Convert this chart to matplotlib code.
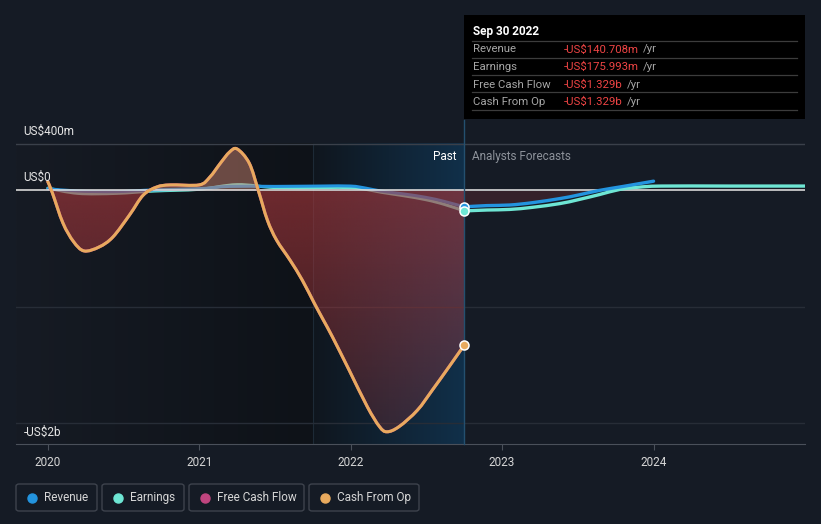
"""Revenue, earnings and cash flow history with analyst forecasts (dark card style)."""

import matplotlib

matplotlib.use("Agg")
import matplotlib.pyplot as plt
from matplotlib.colors import to_rgb
from matplotlib.patches import FancyBboxPatch, PathPatch
from matplotlib.path import Path
import numpy as np

plt.rcParams["font.family"] = ["Roboto", "DejaVu Sans"]

# --- data (US$ millions, decimal years) ---------------------------------
cfo_years = [2020.0, 2020.03, 2020.10, 2020.17, 2020.24, 2020.34, 2020.43, 2020.54,
             2020.63, 2020.72, 2020.81, 2021.0, 2021.07, 2021.14, 2021.20, 2021.25,
             2021.33, 2021.39, 2021.45, 2021.51, 2021.60, 2021.68, 2021.76, 2021.82,
             2021.88, 2021.99, 2022.11, 2022.19, 2022.24, 2022.32, 2022.44, 2022.54,
             2022.65, 2022.75]
cash_from_op = [76, -20, -280, -440, -520, -485, -400, -210,
                -40, 30, 48, 48, 115, 235, 330, 357,
                235, 0, -255, -425, -600, -770, -970, -1115,
                -1260, -1545, -1860, -2030, -2075, -2030, -1890, -1715,
                -1515, -1329]
free_cash_flow = cash_from_op  # identical in the source, drawn underneath

rev_past_years = [2020.0, 2020.2, 2020.45, 2020.7, 2021.0, 2021.2, 2021.5, 2021.8,
                  2022.0, 2022.1, 2022.2, 2022.35, 2022.5, 2022.62, 2022.75]
revenue_past = [15, -5, -10, 5, 15, 35, 35, 38, 38, 20, -5, -30, -60, -95, -140.708]
rev_fc_years = [2022.75, 2022.9, 2023.05, 2023.2, 2023.38, 2023.5, 2023.64, 2023.8, 2024.0]
revenue_fc = [-140.708, -130, -125, -105, -70, -40, 0, 35, 80]

earn_past_years = [2020.0, 2020.2, 2020.45, 2020.7, 2021.0, 2021.25, 2021.5, 2021.8,
                   2022.0, 2022.1, 2022.2, 2022.35, 2022.5, 2022.62, 2022.75]
earnings_past = [20, -25, -25, -5, 10, 50, 25, 25, 25, 10, -15, -45, -80, -120, -175.993]
earn_fc_years = [2022.75, 2022.9, 2023.05, 2023.2, 2023.38, 2023.5, 2023.64, 2023.78,
                 2023.9, 2024.05, 2024.5, 2025.0]
earnings_fc = [-175.993, -168, -163, -145, -113, -80, -36, 10, 28, 38, 38, 38]

year_ticks = [2020, 2021, 2022, 2023, 2024]
y_labels = ["US$400m", "US$0", "-US$2b"]
legend_names = ["Revenue", "Earnings", "Free Cash Flow", "Cash From Op"]
tooltip_rows = [("Revenue", "-US$140.708m"), ("Earnings", "-US$175.993m"),
                ("Free Cash Flow", "-US$1.329b"), ("Cash From Op", "-US$1.329b")]

# --- style ---------------------------------------------------------------
BG = "#151b25"
C_REV = "#2394df"
C_EARN = "#6ee6d4"
C_FCF = "#c0457f"
C_CFO = "#e8aa5e"
PAST_END = 2022.75
HILITE_START = 2021.75
X0, X1 = 2019.79, 2025.0
Y0, Y1 = -2180, 606

W, H = 821, 524
fig = plt.figure(figsize=(W / 100, H / 100), dpi=100, facecolor=BG)
ax = fig.add_axes([16 / W, (H - 444) / H, (805 - 16) / W, (444 - 120) / H])
ax.set_facecolor(BG)
ax.set_xlim(X0, X1)
ax.set_ylim(Y0, Y1)


def hgrad(c_left, c_right, n=256):
    a, b = np.array(to_rgb(c_left)), np.array(to_rgb(c_right))
    t = np.linspace(0, 1, n)[None, :, None]
    return a + (b - a) * t


def smooth_verts(xs, ys):
    """Catmull-Rom through the read points, as cubic Bezier segments."""
    pts = np.column_stack([xs, ys]).astype(float)
    verts, codes = [pts[0]], [Path.MOVETO]
    last = len(pts) - 1
    for i in range(last):
        p0, p1 = pts[max(i - 1, 0)], pts[i]
        p2, p3 = pts[i + 1], pts[min(i + 2, last)]
        verts += [p1 + (p2 - p0) / 6, p2 - (p3 - p1) / 6, p2]
        codes += [Path.CURVE4] * 3
    return verts, codes


def curve(xs, ys, color, lw, zorder):
    verts, codes = smooth_verts(xs, ys)
    patch = PathPatch(Path(verts, codes), facecolor="none", edgecolor=color, lw=lw,
                      zorder=zorder, capstyle="round", joinstyle="round")
    ax.add_patch(patch)
    return patch


# background bands
ax.imshow(hgrad("#161b24", "#0e1218"), extent=[X0, HILITE_START, Y0, 400],
          aspect="auto", zorder=0, interpolation="bilinear")
ax.imshow(hgrad("#0f161e", "#11304a"), extent=[HILITE_START, PAST_END, Y0, 400],
          aspect="auto", zorder=0, interpolation="bilinear")
ax.plot([HILITE_START, HILITE_START], [Y0, 400], color="#1d2a36", lw=0.8, zorder=0.5)

# grid
ax.axhline(400, color="#3a404a", lw=1, zorder=1)
for v in (-1000, -2000):
    ax.axhline(v, color="#272d37", lw=1, zorder=1)

# past revenue / earnings (sit under the cash-flow fill)
curve(earn_past_years, earnings_past, C_EARN, 2.2, 2)
curve(rev_past_years, revenue_past, C_REV, 2.2, 2.1)

# free cash flow area: gradient below zero, brownish above
verts, codes = smooth_verts(cfo_years, free_cash_flow)
x_first, x_last = cfo_years[0], cfo_years[-1]
verts = [(x_first, 0)] + [tuple(v) for v in verts] + [(x_last, 0), (x_first, 0)]
codes = [Path.MOVETO, Path.LINETO] + codes[1:] + [Path.LINETO, Path.CLOSEPOLY]
clip = PathPatch(Path(verts, codes), transform=ax.transData, facecolor="none", edgecolor="none")
ax.add_patch(clip)
n = 256
grad = np.zeros((n, 2, 4))
grad[..., :3] = to_rgb("#a8383c")
grad[..., 3] = np.linspace(0.62, 0.22, n)[:, None]
img = ax.imshow(grad, extent=[x_first, x_last, -2150, 0], aspect="auto", zorder=3,
                interpolation="bilinear")
img.set_clip_path(clip)
pos = np.zeros((2, 2, 4))
pos[..., :3] = to_rgb("#c8826e")
pos[..., 3] = 0.5
img2 = ax.imshow(pos, extent=[x_first, x_last, 0, 420], aspect="auto", zorder=3)
img2.set_clip_path(clip)

# forecast area under zero
rx = np.array(rev_fc_years)
ry = np.array(revenue_fc, dtype=float)
ax.fill_between(rx, ry, 0, where=ry < 0, interpolate=True, color="#a8383c",
                alpha=0.22, lw=0, zorder=2)

# zero line
ax.axhline(0, color="#d8d8d8", lw=1.2, zorder=3.5)

# cash flow lines
curve(cfo_years, free_cash_flow, C_FCF, 2.2, 4)
curve(cfo_years, cash_from_op, C_CFO, 2.2, 4.2)

# forecasts
curve(earn_fc_years, earnings_fc, C_EARN, 2.4, 4)
curve(rev_fc_years, revenue_fc, C_REV, 2.4, 4.1)

# end markers
for val, col in ((revenue_past[-1], C_REV), (earnings_past[-1], C_EARN), (cash_from_op[-1], C_CFO)):
    ax.plot([PAST_END], [val], "o", ms=6.5, color=col, mec="white", mew=1.1, zorder=5)

# past / forecast divider
ax.plot([PAST_END, PAST_END], [Y0, Y1], color="#24506f", lw=1, zorder=4, clip_on=False)
ax.text(PAST_END - 0.05, 290, "Past", color="white", fontsize=8.5, ha="right", va="center", zorder=6)
ax.text(PAST_END + 0.05, 290, "Analysts Forecasts", color="#8d929a", fontsize=8.5,
        ha="left", va="center", zorder=6)

# y labels
for lbl, yv in zip(y_labels, (511, 116, -2076)):
    ax.text(2019.84, yv, lbl, color="#e6e6e6", fontsize=8.5, ha="left", va="center", zorder=6)

# x axis
for s in ("top", "left", "right"):
    ax.spines[s].set_visible(False)
ax.spines["bottom"].set_color("#4a505a")
ax.set_xticks(year_ticks)
ax.set_xticklabels([str(t) for t in year_ticks], color="#d6d6d6", fontsize=8.5)
ax.tick_params(axis="x", length=4, color="#4a505a", pad=5)
ax.set_yticks([])

# tooltip box
fig.patches.append(plt.Rectangle((464 / W, 1 - 119 / H), (805 - 464) / W, (119 - 15) / H,
                                 transform=fig.transFigure, facecolor="black", zorder=5))
fig.text(473 / W, 1 - 31 / H, "Sep 30 2022", color="white", fontsize=8.5,
         fontweight="bold", va="center", zorder=6)
for yy in (41, 58, 75, 92, 110):
    fig.add_artist(plt.Line2D([472 / W, 797 / W], [1 - yy / H] * 2, color="#3c3c3c",
                              lw=0.9, transform=fig.transFigure, zorder=6))
for i, (name, val) in enumerate(tooltip_rows):
    yy = 1 - (49.5 + 17.5 * i) / H
    fig.text(473 / W, yy, name, color="#a6a6a6", fontsize=8.2, va="center", zorder=6)
    t = fig.text(564 / W, yy, val, color="#ee4444", fontsize=8.2, va="center", zorder=6)
    fig.canvas.draw()
    bb = t.get_window_extent()
    fig.text((bb.x1 + 4) / W, yy, "/yr", color="#a6a6a6", fontsize=8.2, va="center", zorder=6)

# legend chips
chips = [(16, 97), (102, 184), (189, 304), (309, 419)]
for (l, r), name, col in zip(chips, legend_names, (C_REV, C_EARN, C_FCF, C_CFO)):
    box = FancyBboxPatch((l / W, 1 - 511 / H), (r - l) / W, 27 / H,
                         boxstyle="round,pad=0,rounding_size=0.004",
                         transform=fig.transFigure, facecolor=BG, edgecolor="#3e434d", lw=1)
    fig.patches.append(box)
    fig.add_artist(plt.Line2D([(l + 16) / W], [1 - 497.5 / H], marker="o", ms=6.5,
                              color=col, lw=0, transform=fig.transFigure))
    fig.text((l + 28) / W, 1 - 497.5 / H, name, color="#d6d6d6", fontsize=8.5, va="center")

fig.savefig("out.png", dpi=100, facecolor=BG)
